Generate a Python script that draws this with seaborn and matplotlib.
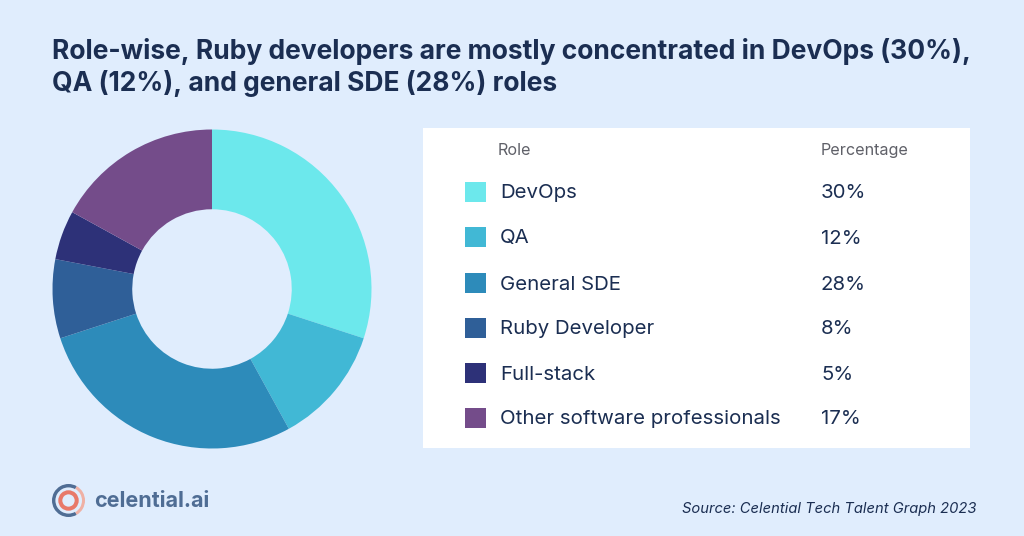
import pandas as pd
import seaborn as sns
import matplotlib.pyplot as plt
from matplotlib.patches import Rectangle, Circle, Wedge

# chart data
roles = ["DevOps", "QA", "General SDE", "Ruby Developer", "Full-stack", "Other software professionals"]
percentages = [30, 12, 28, 8, 5, 17]
role_colors = ["#6ce8ec", "#41b8d5", "#2d8bba", "#2f5f98", "#2d3178", "#744c8a"]
title_text = "Role-wise, Ruby developers are mostly concentrated in DevOps (30%),\nQA (12%), and general SDE (28%) roles"
source_text = "Source: Celential Tech Talent Graph 2023"

BG = "#e0edfd"
NAVY = "#1b2e52"
W, H = 1024, 536

sns.set_theme(style="white")
plt.rcParams["font.family"] = ["Inter", "DejaVu Sans"]
palette = sns.color_palette(role_colors)

fig = plt.figure(figsize=(W / 100, H / 100), dpi=100, facecolor=BG)

# overlay in pixel coordinates
page = fig.add_axes([0, 0, 1, 1])
page.set_xlim(0, W)
page.set_ylim(H, 0)
page.axis("off")

# title
page.text(52, 67.5, title_text, fontsize=19.06, fontweight="bold", color=NAVY,
          ha="left", va="center", linespacing=1.24)

# donut
cx, cy, r = 212, 289, 159.5
donut = fig.add_axes([(cx - r) / W, 1 - (cy + r) / H, 2 * r / W, 2 * r / H])
donut.pie(percentages, colors=palette, startangle=90, counterclock=False, radius=1,
          wedgeprops={"width": 0.5, "linewidth": 0})
donut.set_xlim(-1, 1)
donut.set_ylim(-1, 1)
donut.patch.set_alpha(0)

# table panel
page.add_patch(Rectangle((423, 128), 547, 320, facecolor="white", edgecolor="none", zorder=1))
page.text(498, 150.5, "Role", fontsize=11.6, color="#5f6068", va="center", zorder=3)
page.text(821, 150.5, "Percentage", fontsize=11.6, color="#5f6068", va="center", zorder=3)

table = pd.DataFrame({"role": roles, "pct": percentages})
table["row_y"] = [192, 237, 283, 328, 373, 418]
table["swatch_x"] = 475.5

sns.scatterplot(data=table, x="swatch_x", y="row_y", hue="role", hue_order=roles, palette=palette,
                marker="s", s=212, linewidth=0, legend=False, ax=page, zorder=3)
page.set_xlim(0, W)
page.set_ylim(H, 0)
page.axis("off")

for _, row in table.iterrows():
    page.text(500, row["row_y"] + 1.5, row["role"], fontsize=14.7, color=NAVY, va="center", zorder=3)
    page.text(821, row["row_y"] + 1.5, f"{row['pct']}%", fontsize=14.7, color=NAVY, va="center", zorder=3)

# logo
lx, ly = 68.5, 500.5
page.add_patch(Wedge((lx, ly), 16.5, 60, 300, width=3.4, facecolor="#4f6d94", edgecolor="none"))
page.add_patch(Wedge((lx, ly), 16.5, -60, 60, width=3, facecolor="#efb0a4", edgecolor="none"))
page.add_patch(Circle((lx, ly), 8.2, facecolor="none", edgecolor="#e8796a", linewidth=2.9))
page.text(94, 501, "celential.ai", fontsize=15.5, fontweight="bold", color="#4f6d94", va="center", ha="left")

# source
page.text(977, 509, source_text, fontsize=10.6, fontstyle="italic", color=NAVY, ha="right", va="center")

fig.savefig("out.png", dpi=100, facecolor=BG)
